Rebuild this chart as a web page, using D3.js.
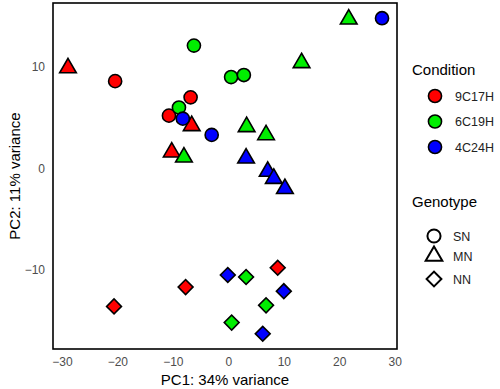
<!DOCTYPE html>
<html>
<head>
<meta charset="utf-8">
<script src="https://cdn.jsdelivr.net/npm/d3@7"></script>
<style>
  body { margin: 0; background: #fff; }
  text { font-family: "Liberation Sans", Arial, sans-serif; }
</style>
</head>
<body>
<div id="chart"></div>
<script>
// DATA
const CONDITIONS = ["9C17H", "6C19H", "4C24H"];
const GENOTYPES = ["SN", "MN", "NN"];
const COND_COLORS = ["#ff0000", "#00ee00", "#0000ff"];
const X_TICKS = [-30, -20, -10, 0, 10, 20, 30];
const Y_TICKS = [-10, 0, 10];

const SAMPLE_COND = ["9C17H", "9C17H", "9C17H", "9C17H", "9C17H", "9C17H", "9C17H", "9C17H", "9C17H",
                     "6C19H", "6C19H", "6C19H", "6C19H", "6C19H", "6C19H", "6C19H", "6C19H", "6C19H", "6C19H", "6C19H", "6C19H",
                     "4C24H", "4C24H", "4C24H", "4C24H", "4C24H", "4C24H", "4C24H", "4C24H", "4C24H", "4C24H"];
const SAMPLE_GENO = ["SN", "SN", "SN", "MN", "MN", "MN", "NN", "NN", "NN",
                     "SN", "SN", "SN", "SN", "MN", "MN", "MN", "MN", "MN", "NN", "NN", "NN",
                     "SN", "SN", "SN", "MN", "MN", "MN", "MN", "NN", "NN", "NN"];
const PC1 = [-20.4, -6.8, -10.7, -28.9, -6.6, -10.2, -20.6, -7.7, 8.9,
             -6.2, 0.5, 2.8, -8.9, -8.0, 3.3, 6.8, 13.2, 21.7, 3.2, 6.8, 0.6,
             -8.2, -3.0, 27.7, 3.2, 7.1, 8.2, 10.2, -0.1, 10.0, 6.2];
const PC2 = [8.6, 7.0, 5.2, 9.9, 4.2, 1.6, -13.6, -11.7, -9.8,
             12.1, 9.0, 9.2, 6.0, 1.1, 4.1, 3.3, 10.4, 14.7, -10.7, -13.5, -15.2,
             4.9, 3.3, 14.8, 1.0, -0.3, -1.0, -2.0, -10.5, -12.1, -16.3];

const WIDTH = 500, HEIGHT = 389;
const PANEL = {left: 53, right: 397, top: 3, bottom: 349};

const svg = d3.select("#chart").append("svg")
  .attr("width", WIDTH)
  .attr("height", HEIGHT);

const X_SCALE = d3.scaleLinear().domain([-31.6, 30.4]).range([PANEL.left, PANEL.right]);
const Y_SCALE = d3.scaleLinear().domain([-17.8, 16.3]).range([PANEL.bottom, PANEL.top]);
const COLOR = d3.scaleOrdinal().domain(CONDITIONS).range(COND_COLORS);

// shape paths per genotype
const SHAPES = {
  SN: d3.symbol().type(d3.symbolCircle).size(135)(),
  MN: d3.symbol().type(d3.symbolTriangle).size(120)(),
  NN: d3.symbol().type(d3.symbolSquare).size(110)()
};
const ROTATE = {SN: 0, MN: 0, NN: 45};

// axes
const xAxis = svg.append("g")
  .attr("transform", "translate(0," + PANEL.bottom + ")")
  .call(d3.axisBottom(X_SCALE).tickValues(X_TICKS).tickSize(0).tickPadding(8)
        .tickFormat(d => d < 0 ? "\u2212" + Math.abs(d) : d));
xAxis.select(".domain").remove();
xAxis.selectAll("text").attr("font-size", "12px").attr("fill", "#4d4d4d")
  .style("font-family", "Liberation Sans, Arial, sans-serif");

const yAxis = svg.append("g")
  .attr("transform", "translate(" + PANEL.left + ",0)")
  .call(d3.axisLeft(Y_SCALE).tickValues(Y_TICKS).tickSize(0).tickPadding(8)
        .tickFormat(d => d < 0 ? "\u2212" + Math.abs(d) : d));
yAxis.select(".domain").remove();
yAxis.selectAll("text").attr("font-size", "12px").attr("fill", "#4d4d4d")
  .style("font-family", "Liberation Sans, Arial, sans-serif");

// panel border
svg.append("rect")
  .attr("x", PANEL.left)
  .attr("y", PANEL.top)
  .attr("width", PANEL.right - PANEL.left)
  .attr("height", PANEL.bottom - PANEL.top)
  .attr("fill", "none")
  .attr("stroke", "#000")
  .attr("stroke-width", 1.6);

// axis titles
svg.append("text")
  .attr("x", (PANEL.left + PANEL.right) / 2)
  .attr("y", 385)
  .attr("text-anchor", "middle")
  .attr("font-size", "15px")
  .text("PC1: 34% variance");

svg.append("text")
  .attr("transform", "translate(20," + ((PANEL.top + PANEL.bottom) / 2) + ") rotate(-90)")
  .attr("text-anchor", "middle")
  .attr("font-size", "15px")
  .text("PC2: 11% variance");

// points
const idx = d3.range(PC1.length);
svg.selectAll(".pt")
  .data(idx)
  .enter()
  .append("path")
    .attr("class", "pt")
    .attr("d", (i) => SHAPES[SAMPLE_GENO[i]])
    .attr("transform", (i) => "translate(" + X_SCALE(PC1[i]) + "," + Y_SCALE(PC2[i]) + ") rotate(" + ROTATE[SAMPLE_GENO[i]] + ")")
    .attr("fill", (i) => COLOR(SAMPLE_COND[i]))
    .attr("stroke", "#000")
    .attr("stroke-width", 1.6);

// legend: condition
const LEG_X = 412;
svg.append("text").attr("x", LEG_X).attr("y", 75).attr("font-size", "15px").text("Condition");

const condLeg = svg.selectAll(".cond-leg")
  .data(CONDITIONS)
  .enter()
  .append("g")
    .attr("class", "cond-leg")
    .attr("transform", (d, i) => "translate(435," + (96 + i * 25.5) + ")");
condLeg.append("path")
  .attr("d", SHAPES.SN)
  .attr("fill", (d) => COLOR(d))
  .attr("stroke", "#000")
  .attr("stroke-width", 1.6);
condLeg.append("text")
  .attr("x", 20)
  .attr("dy", "0.36em")
  .attr("font-size", "12.5px")
  .attr("fill", "#222")
  .text((d) => d);

// legend: genotype
svg.append("text").attr("x", LEG_X).attr("y", 207).attr("font-size", "15px").text("Genotype");

const GENO_Y = [236, 256, 279];
const genoLeg = svg.selectAll(".geno-leg")
  .data(GENOTYPES)
  .enter()
  .append("g")
    .attr("class", "geno-leg")
    .attr("transform", (d, i) => "translate(434," + GENO_Y[i] + ")");
genoLeg.append("path")
  .attr("d", (d) => SHAPES[d])
  .attr("transform", (d) => "rotate(" + ROTATE[d] + ")")
  .attr("fill", "none")
  .attr("stroke", "#000")
  .attr("stroke-width", 2);
genoLeg.append("text")
  .attr("x", 19)
  .attr("dy", "0.36em")
  .attr("font-size", "12.5px")
  .attr("fill", "#222")
  .text((d) => d);
</script>
</body>
</html>
